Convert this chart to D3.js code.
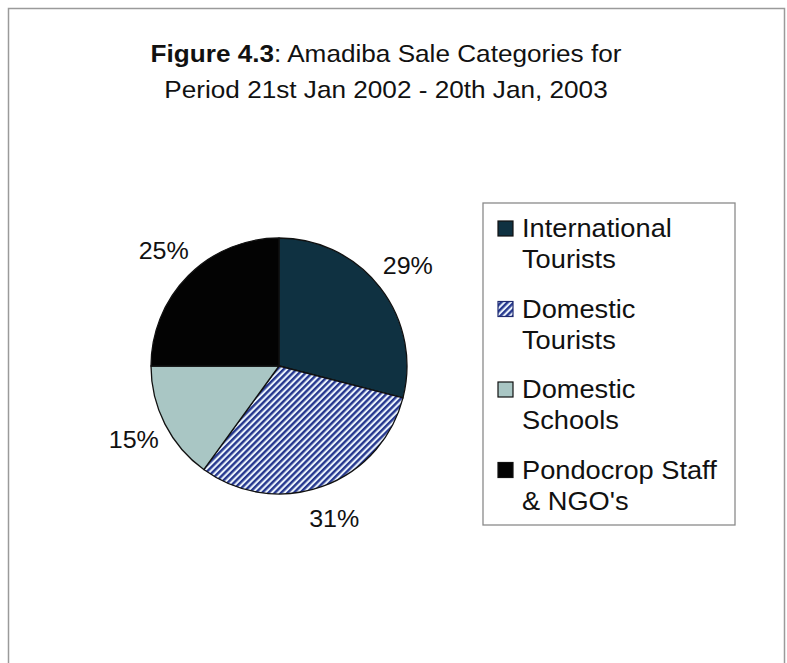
<!DOCTYPE html>
<html><head><meta charset="utf-8">
<script src="https://cdn.jsdelivr.net/npm/d3@7"></script>
<style>body{margin:0;background:#fff}svg{display:block}text{font-family:"Liberation Sans",Arial,sans-serif;fill:#111}</style>
</head><body>
<script>
const categories = ["International Tourists", "Domestic Tourists", "Domestic Schools", "Pondocrop Staff & NGO's"];
const legendLines = [["International", "Tourists"], ["Domestic", "Tourists"], ["Domestic", "Schools"], ["Pondocrop Staff", "& NGO's"]];
const values = [29, 31, 15, 25];
const labels = ["29%", "31%", "15%", "25%"];
const fills = ["#0f3141", "url(#hatch)", "#a9c6c4", "#030303"];

const W = 787, H = 663;
const svg = d3.select("body").append("svg").attr("width", W).attr("height", H);
const defs = svg.append("defs");
const pat = defs.append("pattern").attr("id", "hatch").attr("patternUnits", "userSpaceOnUse")
  .attr("width", 4.5).attr("height", 4.5).attr("patternTransform", "rotate(45)");
pat.append("rect").attr("width", 4.5).attr("height", 4.5).attr("fill", "#eaf2fb");
pat.append("rect").attr("width", 2.4).attr("height", 4.5).attr("fill", "#25378e");

svg.append("rect").attr("x", 8.5).attr("y", 8.5).attr("width", 776).attr("height", 700)
  .attr("fill", "#fff").attr("stroke", "#9a9a9a").attr("stroke-width", 1.5);

const sx = 1.09;
function stretched(g, x, y) { return g.attr("transform", `translate(${x},${y}) scale(${sx},1)`); }

// title
const t1 = stretched(svg.append("text"), 386, 62).attr("text-anchor", "middle").attr("font-size", 24);
t1.append("tspan").attr("font-weight", "bold").text("Figure 4.3");
t1.append("tspan").text(": Amadiba Sale Categories for");
stretched(svg.append("text"), 386, 98).attr("text-anchor", "middle").attr("font-size", 24)
  .text("Period 21st Jan 2002 - 20th Jan, 2003");

// pie
const cx = 279, cy = 366, r = 128;
const pie = d3.pie().sort(null).value(d => d)(values);
const arc = d3.arc().innerRadius(0).outerRadius(r);
const labelArc = d3.arc().innerRadius(163).outerRadius(163);
const g = svg.append("g").attr("transform", `translate(${cx},${cy})`);
g.selectAll("path").data(pie).join("path")
  .attr("d", arc).attr("fill", (d, i) => fills[i])
  .attr("stroke", "#111").attr("stroke-width", 1.3).attr("stroke-linejoin", "round");
g.selectAll("text").data(pie).join("text")
  .attr("transform", d => { const [x, y] = labelArc.centroid(d); return `translate(${x},${y + 8}) scale(${sx},1)`; })
  .attr("text-anchor", "middle").attr("font-size", 23).text((d, i) => labels[i]);

// legend
const lx = 483, ly = 203;
svg.append("rect").attr("x", lx).attr("y", ly).attr("width", 252).attr("height", 322)
  .attr("fill", "#fff").attr("stroke", "#8a8a8a").attr("stroke-width", 1.3);
const leg = svg.append("g");
categories.forEach((c, i) => {
  const by = 237 + i * 80.5;
  leg.append("rect").attr("x", 498).attr("y", by - 16).attr("width", 15).attr("height", 15)
    .attr("fill", fills[i]).attr("stroke", i === 1 ? "#1f2a70" : "#111").attr("stroke-width", 1.2);
  legendLines[i].forEach((ln, j) => {
    stretched(leg.append("text"), 522, by + j * 31).attr("font-size", 25).text(ln);
  });
});
</script>
</body></html>
